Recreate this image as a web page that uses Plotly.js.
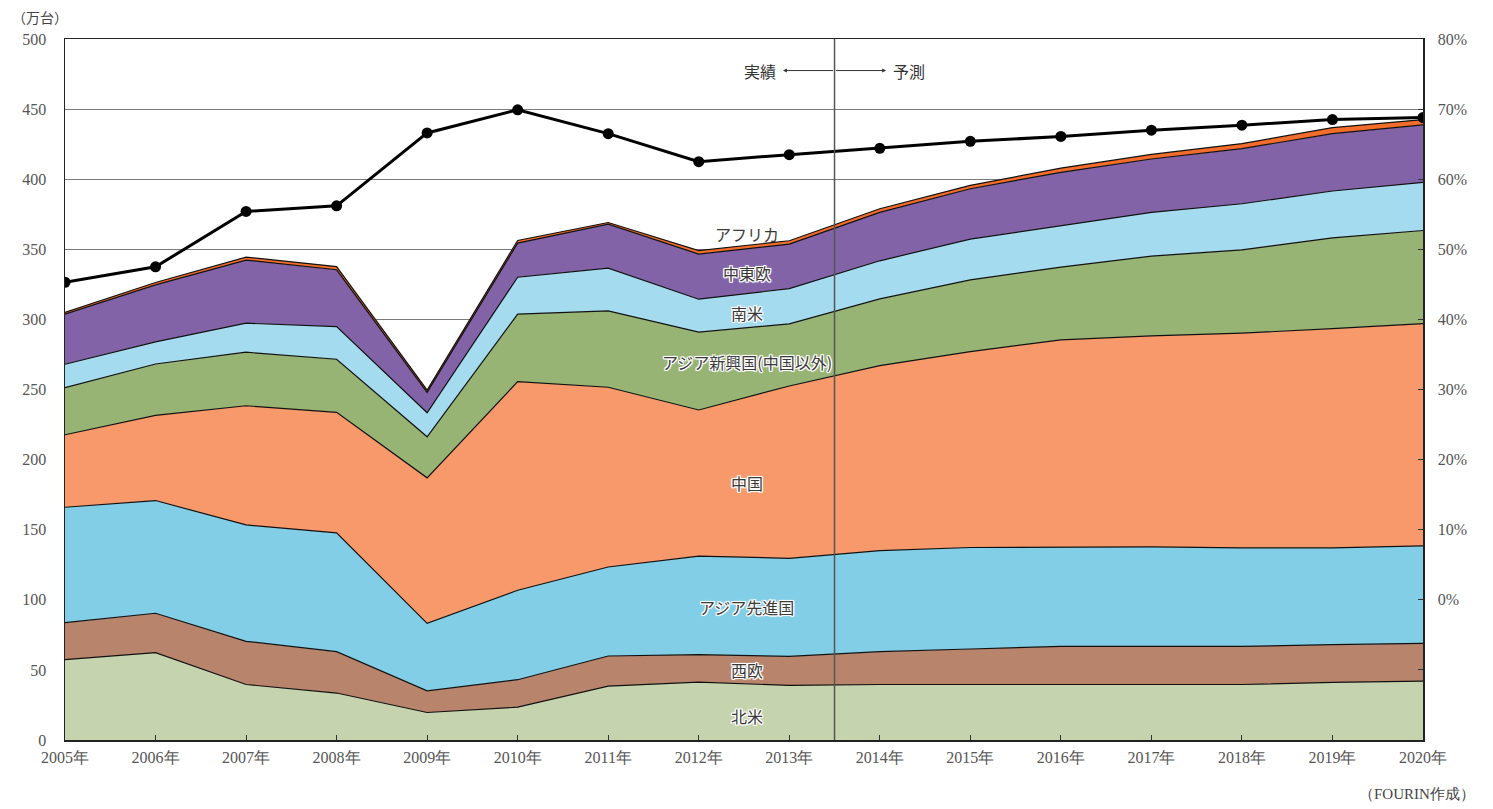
<!DOCTYPE html>
<html><head><meta charset="utf-8">
<script src="https://cdn.plot.ly/plotly-3.0.1.min.js"></script>
<style>html,body{margin:0;padding:0;background:#fff;}#chart{width:1493px;height:809px;}</style>
</head><body><div id="chart"></div>
<script>
const years = [2005,2006,2007,2008,2009,2010,2011,2012,2013,2014,2015,2016,2017,2018,2019,2020];
const yearLabels = years.map(y => y + '年');
const northAmerica = [57.3,62.3,39.6,33.5,19.6,23.4,38.4,41.3,38.9,39.6,39.6,39.6,39.6,39.6,41.1,42.0];
const westEurope   = [26.4,28.1,30.8,29.5,15.5,19.6,21.5,19.6,20.7,23.4,25.3,27.2,27.2,27.2,26.9,26.9];
const asiaAdvanced = [82.3,80.4,83.0,84.7,48.1,63.8,63.5,70.2,70.0,72.1,72.4,70.9,70.9,70.2,69.0,69.5];
const china        = [51.7,60.7,85.0,86.0,103.8,148.8,128.2,104.3,122.9,131.9,139.7,147.7,150.5,153.2,156.4,158.6];
const asiaEmerging = [33.6,36.7,38.2,37.9,29.3,48.1,54.5,55.5,44.3,47.6,51.2,51.9,56.9,59.4,64.8,66.4];
const southAmerica = [16.7,15.8,20.7,23.3,17.1,26.4,30.5,23.5,25.2,27.2,29.1,29.7,31.2,32.9,33.4,34.3];
const centralEastEurope = [35.7,40.6,45.0,40.5,14.6,24.3,31.4,32.2,31.7,34.5,35.9,37.9,38.1,39.3,40.9,41.0];
const africa       = [1.3,1.7,2.1,2.3,1.6,1.9,1.1,2.5,2.4,2.6,2.4,3.0,3.3,3.6,4.3,3.8];
const sharePct     = [45.3,47.5,55.4,56.2,66.6,69.9,66.5,62.5,63.5,64.4,65.4,66.1,67.0,67.7,68.5,68.8];

const seriesNames = ['北米','西欧','アジア先進国','中国','アジア新興国(中国以外)','南米','中東欧','アフリカ'];
const seriesData = [northAmerica, westEurope, asiaAdvanced, china, asiaEmerging, southAmerica, centralEastEurope, africa];
const seriesColors = ['#c5d3ae','#b8846c','#82cee6','#f7996a','#97b474','#a5dbee','#8363a8','#f26d2b'];

const traces = seriesData.map((d, i) => ({
  type: 'scatter', mode: 'lines', x: years, y: d, name: seriesNames[i],
  stackgroup: 'one', fillcolor: seriesColors[i],
  line: {color: '#111', width: 1.2}, hoverinfo: 'skip'
}));
traces.push({
  type: 'scatter', mode: 'lines+markers', x: years, y: sharePct, yaxis: 'y2',
  line: {color: '#000', width: 3}, marker: {color: '#000', size: 11, symbol: 'circle'},
  name: 'share', hoverinfo: 'skip'
});

const serif = 'Liberation Serif, DejaVu Serif, serif';
const jp = 'Noto Sans CJK JP, sans-serif';
const halo = '-1px -1px 0 #fff, 1px -1px 0 #fff, -1px 1px 0 #fff, 1px 1px 0 #fff, 0 -1px 0 #fff, 0 1px 0 #fff, -1px 0 0 #fff, 1px 0 0 #fff, 0 0 3px #fff';

const labelX = 2012.53;
const areaLabels = [
  {t:'アフリカ', y:361, halo:false},
  {t:'中東欧', y:333.2, halo:true},
  {t:'南米', y:304.6, halo:true},
  {t:'アジア新興国(中国以外)', y:269.6, halo:true},
  {t:'中国', y:183.2, halo:true},
  {t:'アジア先進国', y:94.6, halo:true},
  {t:'西欧', y:49.6, halo:true},
  {t:'北米', y:16.8, halo:true}
];
const annotations = areaLabels.map(a => ({
  x: labelX, y: a.y, xref: 'x', yref: 'y', text: a.t, showarrow: false,
  font: {family: jp, size: 16, color: '#3a3a3a', shadow: a.halo ? halo : 'none'}
}));
annotations.push(
  {x: 2012.93, y: 477.5, ax: 2013.5, ay: 477.5, xref:'x', yref:'y', axref:'x', ayref:'y',
   text:'', showarrow:true, arrowhead:2, arrowsize:0.8, arrowwidth:1, arrowcolor:'#333'},
  {x: 2014.07, y: 477.5, ax: 2013.5, ay: 477.5, xref:'x', yref:'y', axref:'x', ayref:'y',
   text:'', showarrow:true, arrowhead:2, arrowsize:0.8, arrowwidth:1, arrowcolor:'#333'},
  {x: 2012.88, y: 477.5, xref:'x', yref:'y', text:'実績', showarrow:false, xanchor:'right',
   font:{family: jp, size: 16, color:'#333'}},
  {x: 2014.12, y: 477.5, xref:'x', yref:'y', text:'予測', showarrow:false, xanchor:'left',
   font:{family: jp, size: 16, color:'#333'}},
  {x: 0.004, y: 1, xref:'paper', yref:'paper', yshift: 22, text:'（万台）', showarrow:false, xanchor:'right', yanchor:'middle',
   xshift: 0, font:{family: jp, size: 14, color:'#444'}},
  {x: 1, y: 0, xref:'paper', yref:'paper', text:'（FOURIN作成）', showarrow:false, xanchor:'left', yanchor:'top',
   xshift: -66, yshift: -44, font:{family: serif, size: 15, color:'#444'}}
);

const rightTicks = [-20,-10,0,10,20,30,40,50,60,70,80];
const rightText = rightTicks.map(v => v < 0 ? '' : v + '%');

const layout = {
  width: 1493, height: 809,
  margin: {l: 65, r: 70, t: 39, b: 69},
  paper_bgcolor: '#fff', plot_bgcolor: '#fff',
  showlegend: false,
  xaxis: {
    range: [2005, 2020], tickvals: years, ticktext: yearLabels,
    ticks: 'inside', ticklen: 5, tickcolor: '#333',
    showline: true, linecolor: '#222', linewidth: 1.5, mirror: true,
    showgrid: false, zeroline: false,
    tickfont: {family: serif, size: 16, color: '#555'}, ticklabelstandoff: 2
  },
  yaxis: {
    range: [0, 500], tickvals: [0,50,100,150,200,250,300,350,400,450,500],
    ticks: '', showline: true, linecolor: '#222', linewidth: 1.5, mirror: true,
    showgrid: true, gridcolor: '#7a7a7a', gridwidth: 1, zeroline: false,
    tickfont: {family: serif, size: 16, color: '#555'}, ticklabelstandoff: 14
  },
  yaxis2: {
    overlaying: 'y', side: 'right', range: [-20, 80],
    tickvals: rightTicks, ticktext: rightText,
    ticks: 'inside', ticklen: 5, tickcolor: '#333',
    showline: true, linecolor: '#222', linewidth: 1.5,
    showgrid: false, zeroline: false,
    tickfont: {family: serif, size: 16, color: '#555'}, ticklabelstandoff: 10
  },
  shapes: [{
    type: 'line', xref: 'x', yref: 'paper', x0: 2013.5, x1: 2013.5, y0: 0, y1: 1,
    line: {color: '#555', width: 1.5}, layer: 'above'
  }],
  annotations: annotations
};

Plotly.newPlot('chart', traces, layout, {staticPlot: true});
</script>
</body></html>
